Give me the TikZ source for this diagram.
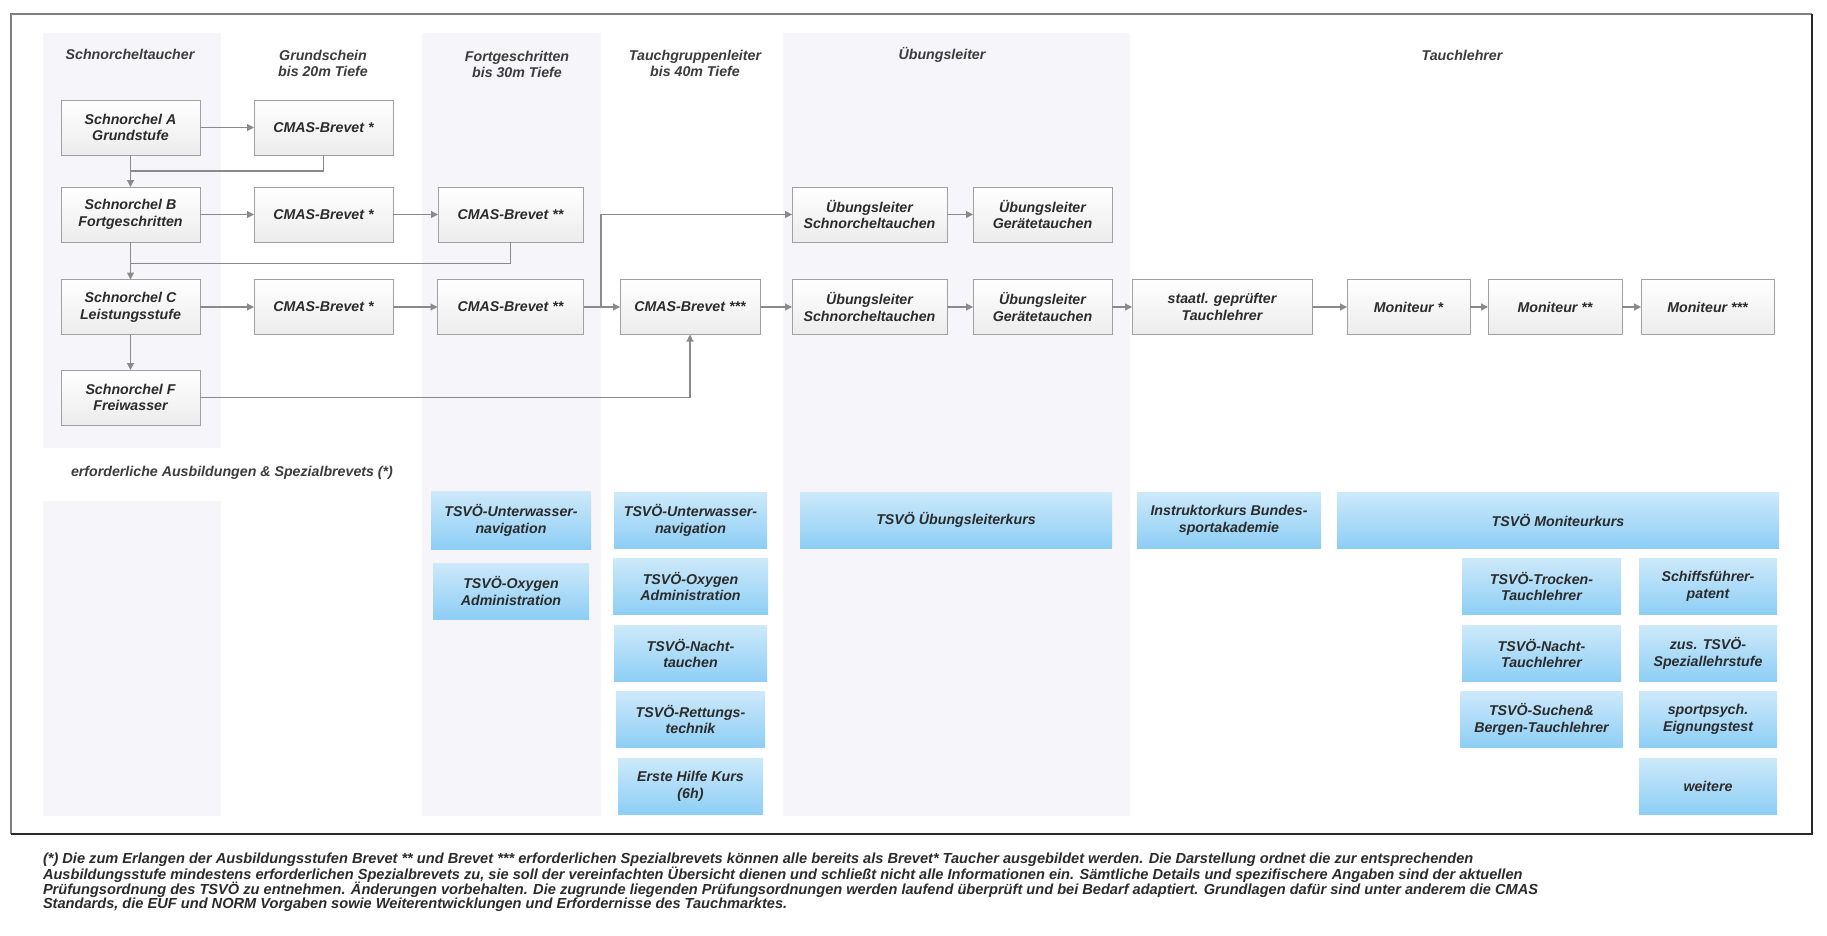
\documentclass[tikz,border=0pt]{standalone}
\usepackage{fontspec}
\setmainfont{Liberation Sans}
\usetikzlibrary{arrows.meta,calc}
\definecolor{boxborder}{HTML}{A0A0A0}
\definecolor{boxbot}{HTML}{ECECEC}
\definecolor{colbg}{HTML}{F6F6FA}
\definecolor{conncol}{HTML}{8A8A8A}
\definecolor{bluetop}{HTML}{CDE9FA}
\definecolor{bluebot}{HTML}{8DCEF5}
\definecolor{txt}{HTML}{2B2B2B}
\definecolor{hdr}{HTML}{3C3C3C}
\definecolor{frameg}{HTML}{808080}
\definecolor{framed}{HTML}{2A2A2A}
\newcommand{\boxfont}{\fontsize{14.2}{16.8}\selectfont\bfseries\itshape}
\newcommand{\notefont}{\fontsize{14.6}{15}\selectfont\bfseries\itshape}
\tikzset{
  every node/.style={inner sep=0pt, outer sep=0pt},
  gbox/.style={draw=boxborder, line width=1pt, top color=white, bottom color=boxbot, minimum height=55pt, align=center, text=txt, font=\boxfont},
  bbox/.style={top color=bluetop, bottom color=bluebot, align=center, text=txt, font=\boxfont, minimum height=56pt},
  hdrtext/.style={align=center, text=hdr, font=\boxfont},
  notetext/.style={anchor=west, text=txt, font=\notefont},
  arr/.style={draw=conncol, line width=1.1pt, -{Triangle[length=7pt,width=7pt]}},
  ln/.style={draw=conncol, line width=1.1pt},
}
\begin{document}
\begin{tikzpicture}[x=1pt,y=-1pt]
\useasboundingbox (0,0) rectangle (1827,935);
\fill[white] (0,0) rectangle (1827,935);
% column backgrounds
\fill[colbg] (43,33) rectangle (221,448);
\fill[colbg] (43,501) rectangle (221,816);
\fill[colbg] (422,33) rectangle (601,816);
\fill[colbg] (783,33) rectangle (1130,816);
% frame
\draw[frameg, line width=2pt] (11,834) -- (11,14) -- (1812,14);
\draw[framed, line width=1.3pt] (1812,14) -- (1812,834) -- (11,834);
% headers
\node[hdrtext] (h1) at (130,54) {Schnorcheltaucher};
\node[hdrtext] (h2) at (323,63.5) {Grundschein\\bis 20m Tiefe};
\node[hdrtext] (h3) at (517,64.5) {Fortgeschritten\\bis 30m Tiefe};
\node[hdrtext] (h4) at (695,63.5) {Tauchgruppenleiter\\bis 40m Tiefe};
\node[hdrtext] (h5) at (942,55) {Übungsleiter};
\node[hdrtext] (h6) at (1462,55) {Tauchlehrer};
% grey boxes
\node[gbox, minimum width=139pt] (A) at (130.5,127.5) {Schnorchel A\\Grundstufe};
\node[gbox, minimum width=139pt] (BA) at (323.5,127.5) {CMAS-Brevet *};
\node[gbox, minimum width=139pt] (B) at (130.5,214.5) {Schnorchel B\\Fortgeschritten};
\node[gbox, minimum width=139pt] (BB1) at (323.5,214.5) {CMAS-Brevet *};
\node[gbox, minimum width=145pt] (BB2) at (510.5,214.5) {CMAS-Brevet **};
\node[gbox, minimum width=155pt] (US1) at (869.5,214.5) {Übungsleiter\\Schnorcheltauchen};
\node[gbox, minimum width=139pt] (UG1) at (1042.5,214.5) {Übungsleiter\\Gerätetauchen};
\node[gbox, minimum width=139pt] (C) at (130.5,307) {Schnorchel C\\Leistungsstufe};
\node[gbox, minimum width=139pt] (CB1) at (323.5,307) {CMAS-Brevet *};
\node[gbox, minimum width=146pt] (CB2) at (510.5,307) {CMAS-Brevet **};
\node[gbox, minimum width=140pt] (C3) at (690,307) {CMAS-Brevet ***};
\node[gbox, minimum width=155pt] (US2) at (869.5,307) {Übungsleiter\\Schnorcheltauchen};
\node[gbox, minimum width=139pt] (UG2) at (1042.5,307) {Übungsleiter\\Gerätetauchen};
\node[gbox, minimum width=180pt] (TL) at (1222,307) {staatl. geprüfter\\Tauchlehrer};
\node[gbox, minimum width=123pt] (M1) at (1408.5,307) {Moniteur *};
\node[gbox, minimum width=134pt] (M2) at (1555,307) {Moniteur **};
\node[gbox, minimum width=133pt] (M3) at (1707.5,307) {Moniteur ***};
\node[gbox, minimum width=139pt] (F) at (130.5,397.5) {Schnorchel F\\Freiwasser};
% connectors
\draw[arr] (A) -- (BA);
\draw[arr] (A) -- (B);
\draw[ln] (BA.south) |- ($(A.south)!0.5!(B.north)$);
\draw[arr] (B) -- (BB1);
\draw[arr] (BB1) -- (BB2);
\draw[arr] (B) -- (C);
\draw[ln] (BB2.south) |- ($(B.south)!0.57!(C.north)$);
\draw[arr] (C) -- (CB1);
\draw[arr] (CB1) -- (CB2);
\draw[arr] (CB2) -- (C3);
\draw[arr] ($(CB2.east)!0.48!(C3.west)$) |- (US1.west);
\draw[arr] (US1) -- (UG1);
\draw[arr] (C) -- (F);
\draw[arr] (F.east) -| (C3.south);
\draw[arr] (C3) -- (US2);
\draw[arr] (US2) -- (UG2);
\draw[arr] (UG2) -- (TL);
\draw[arr] (TL) -- (M1);
\draw[arr] (M1) -- (M2);
\draw[arr] (M2) -- (M3);
% lower section
\node[hdrtext] (req) at (232,473) {erforderliche Ausbildungen \& Spezialbrevets (*)};
\node[bbox, minimum width=160pt, minimum height=58pt] (n1) at (511,520) {TSVÖ-Unterwasser-\\navigation};
\node[bbox, minimum width=156pt] (o1) at (511,591) {TSVÖ-Oxygen\\Administration};
\node[bbox, minimum width=153pt] (n2) at (690.5,520) {TSVÖ-Unterwasser-\\navigation};
\node[bbox, minimum width=155pt] (o2) at (690.5,586.5) {TSVÖ-Oxygen\\Administration};
\node[bbox, minimum width=153pt] (nt) at (690.5,653.5) {TSVÖ-Nacht-\\tauchen};
\node[bbox, minimum width=149pt] (rt) at (690.5,719.5) {TSVÖ-Rettungs-\\technik};
\node[bbox, minimum width=145pt] (eh) at (690.5,786) {Erste Hilfe Kurs\\(6h)};
\node[bbox, minimum width=312pt] (ulk) at (956,520) {TSVÖ Übungsleiterkurs};
\node[bbox, minimum width=184pt] (ik) at (1229,520) {Instruktorkurs Bundes-\\sportakademie};
\node[bbox, minimum width=442pt] (mk) at (1558,520) {TSVÖ Moniteurkurs};
\node[bbox, minimum width=159pt] (tt) at (1541.5,586.5) {TSVÖ-Trocken-\\Tauchlehrer};
\node[bbox, minimum width=159pt] (ntl) at (1541.5,653.5) {TSVÖ-Nacht-\\Tauchlehrer};
\node[bbox, minimum width=162pt] (sb) at (1541.5,719.5) {TSVÖ-Suchen\&\\Bergen-Tauchlehrer};
\node[bbox, minimum width=138pt] (sp) at (1708,586.5) {Schiffsführer-\\patent};
\node[bbox, minimum width=138pt] (zs) at (1708,653.5) {zus. TSVÖ-\\Speziallehrstufe};
\node[bbox, minimum width=138pt] (pt) at (1708,719.5) {sportpsych.\\Eignungstest};
\node[bbox, minimum width=138pt] (we) at (1708,786) {weitere};
% footnote
\node[notetext] (f1) at (43,860) {(*) Die zum Erlangen der Ausbildungsstufen Brevet ** und Brevet *** erforderlichen Spezialbrevets können alle bereits als Brevet* Taucher ausgebildet werden. Die Darstellung ordnet die zur entsprechenden};
\node[notetext] (f2) at (43,875) {Ausbildungsstufe mindestens erforderlichen Spezialbrevets zu, sie soll der vereinfachten Übersicht dienen und schließt nicht alle Informationen ein. Sämtliche Details und spezifischere Angaben sind der aktuellen};
\node[notetext] (f3) at (43,890) {Prüfungsordnung des TSVÖ zu entnehmen. Änderungen vorbehalten. Die zugrunde liegenden Prüfungsordnungen werden laufend überprüft und bei Bedarf adaptiert. Grundlagen dafür sind unter anderem die CMAS};
\node[notetext] (f4) at (43,905) {Standards, die EUF und NORM Vorgaben sowie Weiterentwicklungen und Erfordernisse des Tauchmarktes.};
\end{tikzpicture}
\end{document}
